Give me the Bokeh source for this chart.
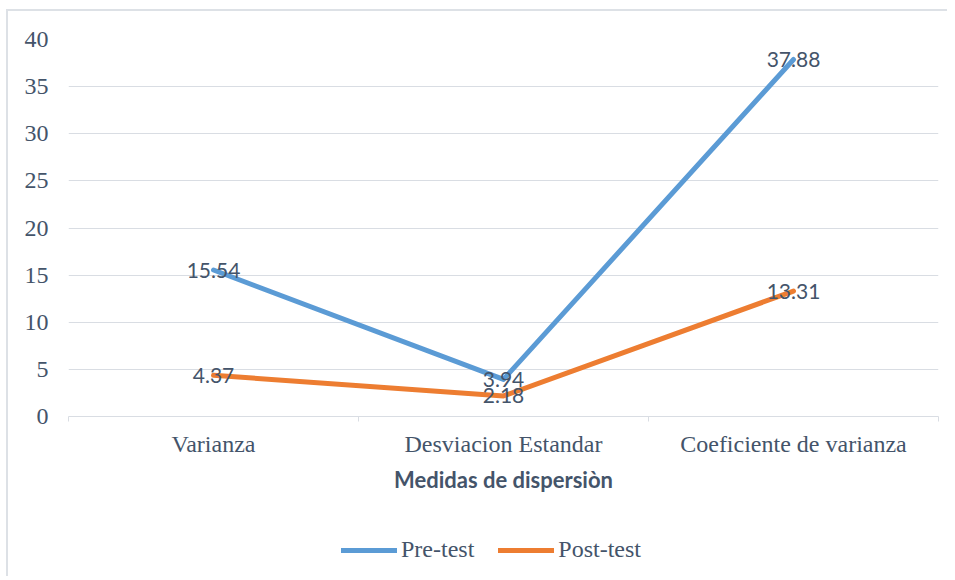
from bokeh.plotting import figure
from bokeh.layouts import column
from bokeh.models import Range1d, FixedTicker, Legend, LegendItem
from bokeh.core.properties import value
from bokeh.embed import file_html
from bokeh.resources import INLINE

categories = ["Varianza", "Desviacion Estandar", "Coeficiente de varianza"]
pre_test = [15.54, 3.94, 37.88]
post_test = [4.37, 2.18, 13.31]
y_ticks = [0, 5, 10, 15, 20, 25, 30, 35, 40]
series_names = ["Pre-test", "Post-test"]

BLUE = "#5B9BD5"
ORANGE = "#ED7D31"
TEXT = "#44546A"
GRID = "#D9DDE3"
SERIF = "Liberation Serif"
SANS = "Lato"

xs = [i + 0.5 for i in range(len(categories))]
bounds = [float(i) for i in range(len(categories) + 1)]

p = figure(width=939, height=485,
           x_range=Range1d(0, len(categories)), y_range=Range1d(y_ticks[0], y_ticks[-1]),
           output_backend="svg", toolbar_location=None,
           min_border_left=60, min_border_top=28, min_border_right=9, min_border_bottom=80)
p.outline_line_color = None
p.background_fill_color = "white"
p.border_fill_color = "white"

p.line(xs, pre_test, line_width=5, line_color=BLUE, line_cap="round", line_join="round")
p.line(xs, post_test, line_width=5, line_color=ORANGE, line_cap="round", line_join="round")

for vals in (pre_test, post_test):
    p.text(x=xs, y=vals, text=[f"{v:.2f}" for v in vals], text_align="center",
           text_baseline="middle", text_font=value(SANS), text_font_size="21px",
           text_color=TEXT)

# x axis
p.xaxis.ticker = FixedTicker(ticks=xs, minor_ticks=bounds)
p.xaxis.major_label_overrides = {x: c for x, c in zip(xs, categories)}
p.xaxis.major_tick_out = 0
p.xaxis.major_tick_in = 0
p.xaxis.minor_tick_out = 5
p.xaxis.minor_tick_in = 0
p.xaxis.minor_tick_line_color = GRID
p.xaxis.axis_line_color = GRID
p.xaxis.major_label_text_font = SERIF
p.xaxis.major_label_text_font_size = "24px"
p.xaxis.major_label_text_color = TEXT
p.xaxis.major_label_standoff = 9
p.xaxis.axis_label = "Medidas de dispersiòn"
p.xaxis.axis_label_text_font = SANS
p.xaxis.axis_label_text_font_style = "bold"
p.xaxis.axis_label_text_font_size = "22px"
p.xaxis.axis_label_text_color = TEXT
p.xaxis.axis_label_standoff = 6

# y axis
p.yaxis.ticker = FixedTicker(ticks=y_ticks)
p.yaxis.axis_line_color = None
p.yaxis.major_tick_line_color = None
p.yaxis.minor_tick_line_color = None
p.yaxis.major_label_text_font = SERIF
p.yaxis.major_label_text_font_size = "24px"
p.yaxis.major_label_text_color = TEXT
p.yaxis.major_label_standoff = 14

p.xgrid.grid_line_color = None
p.ygrid.ticker = FixedTicker(ticks=y_ticks)
p.ygrid.grid_line_color = GRID
p.ygrid.grid_line_width = 1

# legend strip below the chart (series drawn out of view; only the legend shows)
p2 = figure(width=939, height=80, x_range=Range1d(-2, -1), y_range=Range1d(-2, -1),
            x_axis_type=None, y_axis_type=None,
            output_backend="svg", toolbar_location=None,
            min_border_left=0, min_border_right=0, min_border_top=0, min_border_bottom=0)
p2.outline_line_color = None
p2.grid.grid_line_color = None
p2.background_fill_color = "white"
p2.border_fill_color = "white"
l_pre = p2.line(xs, pre_test, line_width=5, line_color=BLUE, line_cap="round")
l_post = p2.line(xs, post_test, line_width=5, line_color=ORANGE, line_cap="round")

legend = Legend(items=[LegendItem(label=series_names[0], renderers=[l_pre]),
                       LegendItem(label=series_names[1], renderers=[l_post])],
                orientation="horizontal", location=(273, 13),
                border_line_color=None, background_fill_alpha=0,
                label_text_font=SERIF, label_text_font_size="24px", label_text_color=TEXT,
                glyph_width=56, glyph_height=20, label_standoff=4, spacing=24,
                padding=0, margin=0)
p2.add_layout(legend)

layout = column(p, p2, spacing=0)
layout.styles = {"border-left": "2px solid #DDE1E6", "border-top": "2px solid #DDE1E6",
                 "margin-left": "6px", "margin-top": "9px"}

open("out.html", "w").write(file_html(layout, INLINE))
